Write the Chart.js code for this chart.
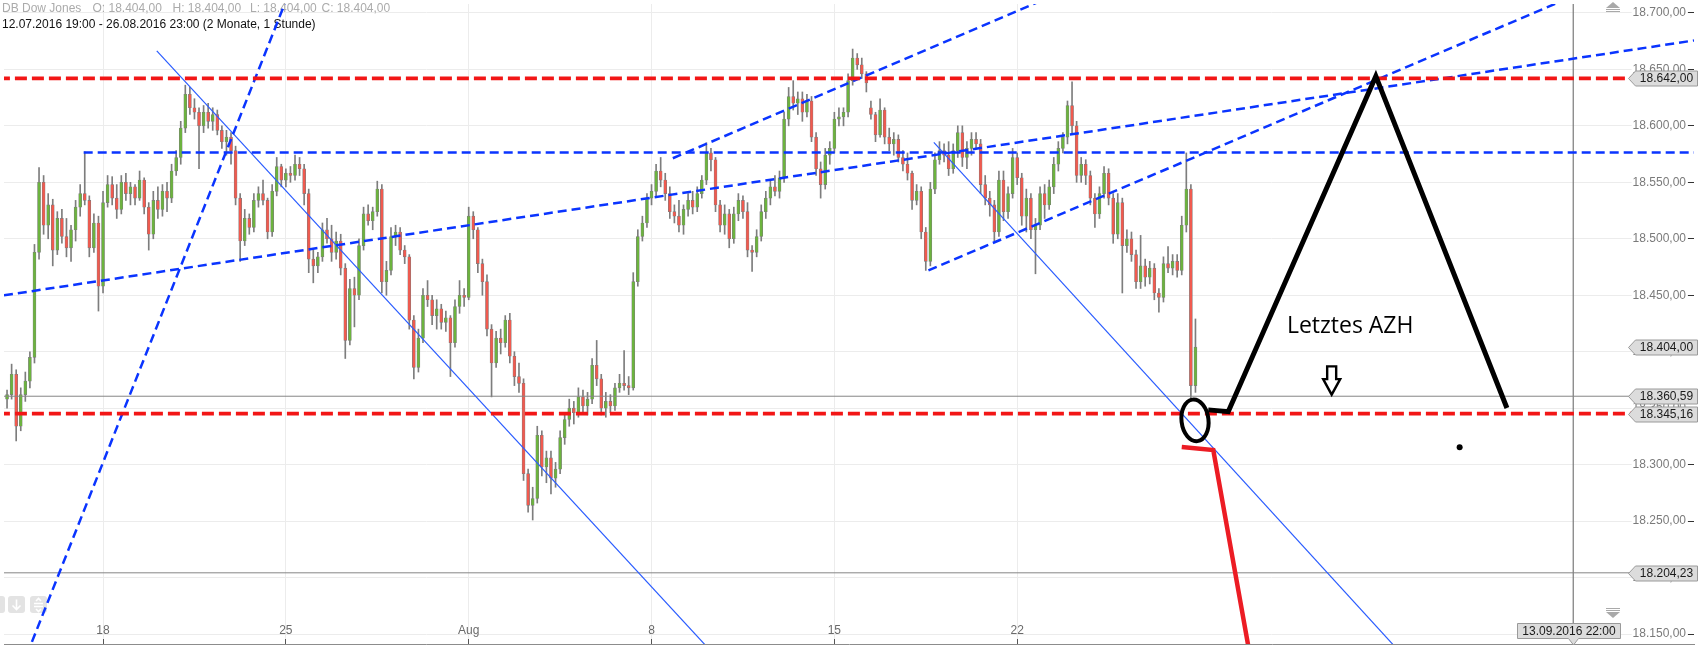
<!DOCTYPE html>
<html>
<head>
<meta charset="utf-8">
<title>DB Dow Jones</title>
<script src="https://cdn.jsdelivr.net/npm/chart.js@4.4.1/dist/chart.umd.min.js"></script>
<style>
html,body{margin:0;padding:0;background:#fff;overflow:hidden;}
#wrap{position:relative;width:1698px;height:648px;}
canvas{display:block;}
</style>
</head>
<body>
<div id="wrap"><canvas id="chart" width="1698" height="648"></canvas></div>
<script>
// ---------------- data (hourly-ish candles) ----------------
const openP = [
18358,18362,18380,18334,18362,18374,18395,18488,18550,18512,18530,18490,18518,18502,18492,18508,18528,18540,18534,18492,18514,18458,
18532,18548,18536,18526,18550,18540,18546,18536,18552,18528,18504,18534,18526,18542,18536,18560,18572,18598,18628,18616,18612,18600,
18612,18604,18610,18596,18586,18590,18578,18536,18498,18518,18510,18534,18540,18534,18506,18542,18564,18552,18558,18556,18566,
18562,18540,18482,18476,18484,18508,18500,18488,18498,18474,18410,18456,18450,18494,18522,18516,18524,18544,18462,18472,18502,
18506,18490,18484,18428,18386,18412,18450,18446,18432,18438,18426,18430,18408,18440,18450,18448,18520,18508,18478,18462,18420,18390,18412,
18408,18428,18396,18378,18372,18292,18264,18270,18326,18298,18306,18288,18296,18324,18340,18350,18346,18360,18352,18358,18388,
18376,18350,18356,18352,18368,18372,18370,18368,18462,18502,18514,18536,18542,18560,18552,18540,18524,18520,18512,18526,18534,18528,18540,18552,18576,
18570,18530,18512,18522,18500,18522,18534,18524,18490,18488,18502,18524,18536,18546,18542,18554,18606,18626,18620,18624,18612,
18622,18590,18562,18548,18574,18580,18606,18608,18612,18640,18660,18654,18646,18616,18610,18592,18614,18590,18584,18588,
18572,18566,18558,18534,18542,18506,18480,18544,18570,18578,18574,18562,18578,18594,18572,18580,18588,18584,18548,18536,18530,18506,18552,
18524,18540,18572,18554,18520,18536,18508,18512,18540,18530,18546,18566,18580,18590,18618,18600,18556,18566,18556,18536,
18522,18540,18558,18536,18504,18532,18494,18500,18486,18462,18476,18466,18474,18452,18448,18478,18474,18480,18472,18512,18544,18370];
const highP = [
18366,18389,18384,18368,18382,18400,18495,18563,18556,18540,18535,18524,18526,18518,18512,18534,18548,18577,18538,18522,18520,18542,
18556,18555,18548,18556,18558,18550,18548,18560,18554,18532,18542,18546,18548,18550,18566,18578,18604,18636,18634,18624,18616,18618,
18620,18616,18614,18600,18596,18594,18582,18540,18526,18522,18540,18546,18552,18536,18548,18572,18566,18562,18564,18574,18572,
18566,18544,18490,18488,18514,18518,18512,18506,18504,18478,18464,18466,18500,18528,18530,18528,18551,18548,18480,18510,18512,
18510,18494,18486,18432,18420,18456,18463,18450,18446,18442,18436,18432,18446,18463,18456,18528,18524,18510,18482,18468,18424,18418,18420,
18432,18434,18400,18390,18376,18296,18280,18334,18330,18312,18312,18302,18330,18346,18358,18356,18368,18366,18364,18394,18410,
18380,18364,18362,18372,18380,18401,18378,18470,18508,18520,18540,18548,18566,18572,18558,18546,18530,18534,18530,18540,18542,18546,18556,18585,18580,
18572,18534,18530,18526,18528,18540,18538,18532,18494,18508,18530,18542,18552,18556,18560,18612,18634,18640,18630,18630,18628,
18626,18594,18568,18580,18586,18612,18616,18616,18646,18668,18664,18660,18648,18622,18612,18624,18616,18598,18594,18592,
18578,18576,18560,18548,18546,18510,18550,18576,18586,18584,18586,18584,18600,18600,18586,18594,18594,18588,18556,18542,18534,18560,18560,
18546,18580,18576,18558,18544,18540,18518,18546,18548,18552,18572,18586,18594,18622,18639,18604,18572,18570,18560,18540,
18546,18564,18562,18540,18540,18536,18508,18506,18490,18503,18482,18480,18478,18456,18484,18493,18486,18486,18520,18576,18548,18429];
const lowP = [
18350,18358,18321,18330,18356,18368,18390,18482,18504,18500,18476,18486,18496,18484,18480,18498,18520,18530,18484,18488,18436,18452,
18528,18530,18518,18522,18534,18530,18530,18534,18522,18490,18500,18518,18520,18524,18532,18556,18566,18594,18610,18606,18562,18594,
18598,18596,18592,18580,18574,18566,18530,18480,18494,18504,18506,18528,18530,18500,18502,18538,18546,18546,18550,18552,18556,
18530,18470,18461,18470,18480,18496,18480,18482,18468,18394,18406,18422,18446,18490,18512,18508,18520,18452,18450,18468,18494,
18486,18478,18420,18376,18382,18408,18440,18424,18420,18420,18418,18378,18404,18434,18440,18446,18500,18470,18450,18414,18360,18386,18398,
18404,18390,18370,18364,18286,18258,18251,18266,18290,18284,18274,18280,18292,18318,18334,18336,18342,18346,18344,18354,18370,
18344,18342,18346,18348,18364,18366,18362,18366,18458,18498,18510,18530,18538,18546,18534,18518,18514,18506,18504,18520,18522,18524,18536,18548,18560,
18524,18506,18504,18492,18496,18516,18518,18484,18471,18484,18498,18518,18530,18538,18536,18550,18600,18614,18610,18604,18608,
18586,18556,18536,18544,18566,18576,18600,18600,18608,18636,18650,18642,18630,18606,18586,18590,18584,18578,18574,18568,
18560,18552,18526,18530,18500,18472,18476,18540,18566,18568,18556,18558,18572,18564,18562,18574,18580,18540,18530,18520,18498,18502,18516,
18518,18536,18548,18512,18506,18500,18469,18508,18518,18526,18540,18560,18576,18584,18594,18550,18550,18548,18530,18510,
18518,18536,18530,18496,18500,18452,18488,18480,18456,18456,18458,18460,18446,18435,18444,18470,18468,18466,18468,18506,18358,18364];
const closeP = [
18362,18380,18334,18362,18374,18395,18488,18550,18512,18530,18490,18518,18502,18492,18508,18528,18540,18534,18492,18514,18458,18532,
18548,18536,18526,18550,18540,18546,18536,18552,18528,18504,18534,18526,18542,18536,18560,18572,18598,18628,18616,18612,18600,18612,
18604,18610,18596,18586,18590,18578,18536,18498,18518,18510,18534,18540,18534,18506,18542,18564,18552,18558,18556,18566,18562,
18540,18482,18476,18484,18508,18500,18488,18498,18474,18410,18456,18450,18494,18522,18516,18524,18544,18462,18472,18502,18506,
18490,18484,18428,18386,18412,18450,18446,18432,18438,18426,18430,18408,18440,18450,18448,18520,18508,18478,18462,18420,18390,18412,18408,
18428,18396,18378,18372,18292,18264,18270,18326,18298,18306,18288,18296,18324,18340,18350,18346,18360,18352,18358,18388,18376,
18350,18356,18352,18368,18372,18370,18368,18462,18502,18514,18536,18542,18560,18552,18540,18524,18520,18512,18526,18534,18528,18540,18552,18576,18570,
18530,18512,18522,18500,18522,18534,18524,18490,18488,18502,18524,18536,18546,18542,18554,18606,18626,18620,18624,18612,18622,
18590,18562,18548,18574,18580,18606,18608,18612,18640,18660,18654,18646,18638,18610,18592,18614,18590,18584,18588,18572,
18566,18558,18534,18542,18506,18480,18544,18570,18578,18574,18562,18578,18594,18572,18580,18588,18584,18548,18536,18530,18506,18552,18524,
18540,18572,18554,18520,18536,18508,18512,18540,18530,18546,18566,18580,18590,18618,18600,18556,18566,18556,18536,18522,
18540,18558,18536,18504,18532,18494,18500,18486,18462,18476,18466,18474,18452,18448,18478,18474,18480,18472,18512,18544,18370,18404];

// axis ticks
const xTickIdx = [21, 61, 101, 141, 181, 221];
const xTickLabels = ['18', '25', 'Aug', '8', '15', '22'];
const yTickValues = [18150,18200,18250,18300,18350,18400,18450,18500,18550,18600,18650,18700];

// header texts
const instrumentName = 'DB Dow Jones';
const ohlcHeader = [18404.00, 18404.00, 18404.00, 18404.00];
const rangeText = '12.07.2016 19:00 - 26.08.2016 23:00 (2 Monate, 1 Stunde)';
const cursorText = '13.09.2016 22:00';

// price markers on the right axis
const priceMarkers = [18642.00, 18404.00, 18360.59, 18345.16, 18204.23];
const redLevels = [18642.00, 18345.16];
const grayLevels = [18360.59, 18204.23];
const blueLevel = [16.77, 18576.5];          // start index, price
const crosshairIdx = 342.65;

// drawn trend lines: [index, price] end points
const trendLong    = [[-0.67, 18449.9], [369.07, 18675.6]];
const trendSteep   = [[3.19, 18120.0], [61.92, 18720.0]];
const trendUpper   = [[145.66, 18571.3], [231.63, 18720.1]];
const trendChannel = [[201.58, 18472.0], [345.70, 18720.1]];
const thinLine1    = [[32.76, 18666.3], [155.15, 18129.8]];
const thinLine2    = [[202.76, 18585.3], [305.68, 18129.8]];

// hand drawn annotations
const blackPathX = [262.8, 267.17, 299.46, 328.14];
const blackPathY = [18348.5, 18346.9, 18644.0, 18350.2];
const redPathX = [257.0, 263.9, 271.98];
const redPathY = [18315.6, 18312.9, 18129.8];
const dotMark = [317.8, 18315.5];
const ellipseMark = [259.9, 18339.2, 2.95, 18.5];   // center idx, center price, radius idx, radius price
const arrowMark = [289.8, 18387.0, 18362.0];         // idx, top price, tip price
const noteText = 'Letztes AZH';
const noteMark = [293.85, 18422.4];

// ---------------- helpers ----------------
const GREEN = '#6cb33e', RED = '#f05a4f', WICK = '#7d7d7d';
const BLUE_D = '#0a34ff', BLUE_T = '#2a5cff', RED_D = '#f21616';
function fmtDE(v) {
  const parts = Number(v).toFixed(2).split('.');
  return parts[0].replace(/\B(?=(\d{3})+(?!\d))/g, '.') + ',' + parts[1];
}
const seg = (pts) => pts.map(p => ({x: p[0], y: p[1]}));
function lineDS(data, color, width, dash, order) {
  return {type: 'line', data, borderColor: color, borderWidth: width, borderDash: dash || [],
    pointRadius: 0, pointHoverRadius: 0, fill: false, tension: 0, order,
    borderCapStyle: 'butt', borderJoinStyle: 'miter'};
}

const wickData = openP.map((o, i) => ({x: i, y: [lowP[i], highP[i]]}));
const bodyData = openP.map((o, i) => ({x: i, y: [o, closeP[i]]}));
const bodyColors = openP.map((o, i) => closeP[i] >= o ? GREEN : RED);

const datasets = [
  {type: 'bar', data: wickData, backgroundColor: WICK, grouped: false, maxBarThickness: 1,
   barPercentage: 1, categoryPercentage: 1, borderWidth: 0, order: 20},
  {type: 'bar', data: bodyData, backgroundColor: bodyColors, borderColor: WICK, borderWidth: 0.6,
   borderSkipped: false, grouped: false, maxBarThickness: 3, barPercentage: 1, categoryPercentage: 1, order: 19},
];
grayLevels.forEach(v => datasets.push(lineDS(seg([[-2, v], [372, v]]), '#858585', 1, [], 15)));
datasets.push(lineDS(seg([[crosshairIdx, 18100], [crosshairIdx, 18760]]), '#7a7a7a', 1.2, [], 15));
datasets.push(lineDS(seg(thinLine1), BLUE_T, 1.2, [], 10));
datasets.push(lineDS(seg(thinLine2), BLUE_T, 1.2, [], 10));
[trendLong, trendSteep, trendUpper, trendChannel].forEach(t => datasets.push(lineDS(seg(t), BLUE_D, 2.5, [9, 5], 8)));
datasets.push(lineDS(seg([blueLevel, [372, blueLevel[1]]]), BLUE_D, 2.5, [9, 5], 8));
redLevels.forEach(v => datasets.push(lineDS(seg([[-2, v], [372, v]]), RED_D, 3.6, [12, 5], 6)));
datasets.push(lineDS(blackPathX.map((x, i) => ({x, y: blackPathY[i]})), '#000000', 5, [], 2));
datasets.push(lineDS(redPathX.map((x, i) => ({x, y: redPathY[i]})), '#ec1c24', 4.5, [], 2));
datasets.push({type: 'line', data: [{x: dotMark[0], y: dotMark[1]}], showLine: false, pointRadius: 3,
  pointBackgroundColor: '#000', pointBorderWidth: 0, order: 1});

// ---------------- overlay plugin (header, boxes, ellipse, arrow, note) ----------------
const overlay = {
  id: 'overlay',
  beforeDatasetsDraw(chart) {
    const c = chart.ctx;
    c.save();
    c.font = '12px "Liberation Sans", Arial, sans-serif';
    c.textBaseline = 'middle';
    c.textAlign = 'left';
    c.fillStyle = '#ababab';
    c.fillText(instrumentName, 2, 8.5);
    const hx = [92.5, 172.5, 250, 321.5];
    ['O', 'H', 'L', 'C'].forEach((k, j) => c.fillText(k + ': ' + fmtDE(ohlcHeader[j]), hx[j], 8.5));
    c.fillStyle = '#111';
    c.fillText(rangeText, 2, 24.5);
    // small buttons bottom-left
    c.fillStyle = '#e3e3e3';
    [[-12, 596], [8, 596], [30, 596]].forEach(([x, y]) => {
      c.beginPath();
      if (c.roundRect) c.roundRect(x, y, 17, 17, 3); else c.rect(x, y, 17, 17);
      c.fill();
    });
    c.strokeStyle = '#ffffff';
    c.lineWidth = 1.6;
    c.beginPath();
    c.moveTo(16.5, 599.5); c.lineTo(16.5, 609.5);
    c.moveTo(12.5, 605.5); c.lineTo(16.5, 609.5); c.lineTo(20.5, 605.5);
    c.stroke();
    c.beginPath();
    c.moveTo(34, 603.5); c.lineTo(43, 603.5); c.moveTo(34, 606.5); c.lineTo(43, 606.5);
    c.moveTo(36, 601); c.lineTo(38.5, 598.5); c.lineTo(41, 601);
    c.moveTo(36, 609); c.lineTo(38.5, 611.5); c.lineTo(41, 609);
    c.stroke();
    // scroll icons right
    c.fillStyle = '#a9a9a9';
    c.beginPath(); c.moveTo(1606, 8); c.lineTo(1613, 2); c.lineTo(1620, 8); c.closePath(); c.fill();
    c.fillRect(1606, 9, 14, 1); c.fillRect(1606, 11, 14, 1);
    c.fillRect(1606, 608, 14, 1); c.fillRect(1606, 610, 14, 1);
    c.beginPath(); c.moveTo(1606, 612); c.lineTo(1620, 612); c.lineTo(1613, 618); c.closePath(); c.fill();
    c.restore();
  },
  afterDatasetsDraw(chart) {
    const c = chart.ctx, xs = chart.scales.x, ys = chart.scales.y;
    c.save();
    // ellipse
    const ex = xs.getPixelForValue(ellipseMark[0]), ey = ys.getPixelForValue(ellipseMark[1]);
    const erx = Math.abs(xs.getPixelForValue(ellipseMark[0] + ellipseMark[2]) - ex);
    const ery = Math.abs(ys.getPixelForValue(ellipseMark[1] + ellipseMark[3]) - ey);
    c.beginPath(); c.ellipse(ex, ey, erx, ery, -0.12, 0, Math.PI * 2);
    c.lineWidth = 4; c.strokeStyle = '#000'; c.stroke();
    // arrow
    const ax = xs.getPixelForValue(arrowMark[0]);
    const at = ys.getPixelForValue(arrowMark[1]), ab = ys.getPixelForValue(arrowMark[2]);
    const sh = (ab - at) * 0.45;
    c.beginPath();
    c.moveTo(ax - 4.5, at); c.lineTo(ax + 4.5, at); c.lineTo(ax + 4.5, at + sh); c.lineTo(ax + 8.5, at + sh);
    c.lineTo(ax, ab); c.lineTo(ax - 8.5, at + sh); c.lineTo(ax - 4.5, at + sh); c.closePath();
    c.fillStyle = '#fff'; c.fill(); c.lineWidth = 2.4; c.strokeStyle = '#000'; c.stroke();
    // note text
    c.font = '23px "Open Sans", "DejaVu Sans", sans-serif';
    c.textAlign = 'center'; c.textBaseline = 'middle'; c.fillStyle = '#000';
    c.fillText(noteText, xs.getPixelForValue(noteMark[0]), ys.getPixelForValue(noteMark[1]));
    // price marker boxes
    c.font = '12px "Liberation Sans", Arial, sans-serif';
    priceMarkers.forEach(v => {
      const y = Math.round(ys.getPixelForValue(v)) + 0.5;
      c.beginPath();
      c.moveTo(1628.5, y); c.lineTo(1635.5, y - 7.5); c.lineTo(1697.5, y - 7.5);
      c.lineTo(1697.5, y + 7.5); c.lineTo(1635.5, y + 7.5); c.closePath();
      c.fillStyle = '#dcdcdc'; c.fill();
      c.strokeStyle = '#9a9a9a'; c.lineWidth = 1; c.stroke();
      c.fillStyle = '#1a1a1a'; c.textAlign = 'center';
      c.fillText(fmtDE(v), 1666.5, y + 0.5);
    });
    // cursor date box
    const cx = Math.round(xs.getPixelForValue(crosshairIdx)) + 0.5;
    c.beginPath();
    c.moveTo(cx - 56, 623.5); c.lineTo(cx + 47, 623.5); c.lineTo(cx + 47, 638.5);
    c.lineTo(cx + 5, 638.5); c.lineTo(cx, 645); c.lineTo(cx - 5, 638.5); c.lineTo(cx - 56, 638.5); c.closePath();
    c.fillStyle = '#dcdcdc'; c.fill(); c.strokeStyle = '#9a9a9a'; c.stroke();
    c.fillStyle = '#1a1a1a';
    c.fillText(cursorText, cx - 4.5, 631.5);
    c.restore();
  }
};

Chart.defaults.font.family = '"Liberation Sans", Arial, sans-serif';
new Chart(document.getElementById('chart'), {
  type: 'bar',
  data: {datasets},
  options: {
    responsive: false,
    animation: false,
    devicePixelRatio: 1,
    events: [],
    layout: {padding: 0},
    plugins: {legend: {display: false}, tooltip: {enabled: false}},
    scales: {
      x: {
        type: 'linear', position: 'bottom', min: -0.666, max: 369.07, offset: false,
        afterFit(s) { s.height = 1; },
        afterBuildTicks(s) { s.ticks = xTickIdx.map(v => ({value: v})); },
        ticks: {
          mirror: true, autoSkip: false, maxRotation: 0, minRotation: 0, padding: 5.8,
          color: '#6a6a6a', font: {size: 12},
          callback: (v) => { const k = xTickIdx.indexOf(v); return k >= 0 ? xTickLabels[k] : ''; }
        },
        grid: {offset: false, color: '#ececec', tickColor: '#555', tickLength: -5, drawTicks: true},
        border: {display: true, color: '#8c8c8c', width: 1}
      },
      y: {
        type: 'linear', position: 'right', min: 18141.2, max: 18707.88, beginAtZero: false,
        afterFit(s) { s.width = 0; },
        afterBuildTicks(s) { s.ticks = yTickValues.map(v => ({value: v})); },
        ticks: {
          mirror: true, padding: -8, color: '#7a7a7a', font: {size: 12},
          showLabelBackdrop: true, backdropColor: '#ffffff',
          backdropPadding: {top: 0, bottom: 0, left: 1, right: 1},
          callback: (v) => fmtDE(v)
        },
        grid: {color: '#ececec', tickColor: '#333', tickLength: -6, drawTicks: true},
        border: {display: false}
      }
    }
  },
  plugins: [overlay]
});
</script>
</body>
</html>
